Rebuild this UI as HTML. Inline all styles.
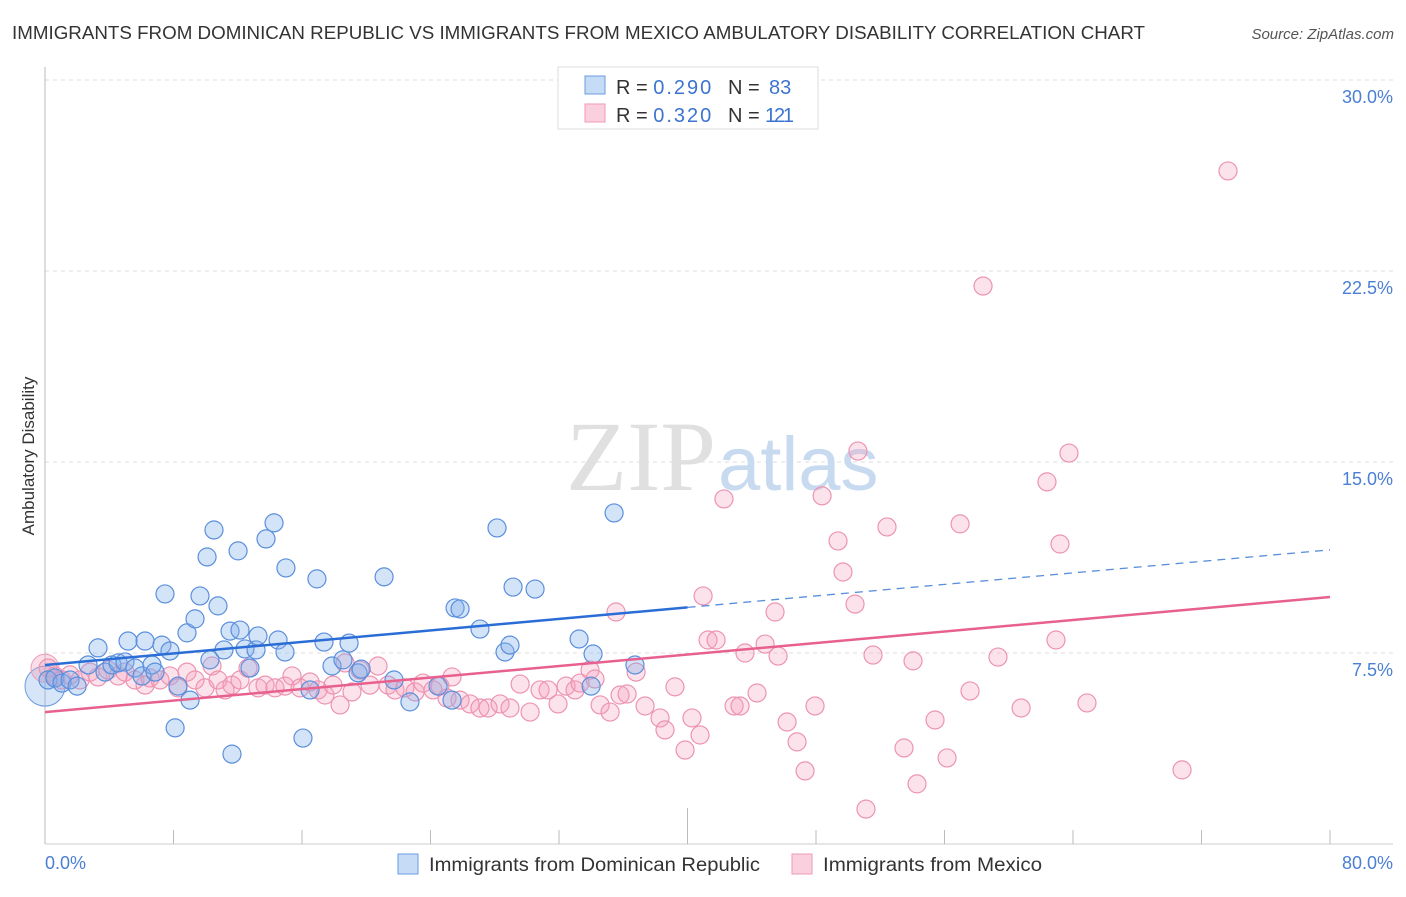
<!DOCTYPE html>
<html><head><meta charset="utf-8"><style>
body{margin:0;background:#fff;font-family:"Liberation Sans",sans-serif;}
svg text{font-family:"Liberation Sans",sans-serif;}
</style></head><body>
<svg id="chart" width="1406" height="892" viewBox="0 0 1406 892">
<text x="12" y="39" font-size="18" fill="#333" textLength="1133" lengthAdjust="spacingAndGlyphs">IMMIGRANTS FROM DOMINICAN REPUBLIC VS IMMIGRANTS FROM MEXICO AMBULATORY DISABILITY CORRELATION CHART</text>
<text x="1394" y="39" font-size="15" fill="#555" font-style="italic" text-anchor="end">Source: ZipAtlas.com</text>
<g id="grid"></g>
<text x="716" y="490" font-size="100" fill="#e0e0e0" text-anchor="end" style="font-family:'Liberation Serif',serif">ZIP</text>
<text x="718" y="490" font-size="76" fill="#c8daf0">atlas</text>
<line x1="45" y1="67" x2="45" y2="844" stroke="#bbb"/>
<line x1="45" y1="844" x2="1393" y2="844" stroke="#ccc"/>
<g id="ticks"></g>
<text transform="translate(34,456) rotate(-90)" font-size="17" fill="#333" text-anchor="middle">Ambulatory Disability</text>
<text x="45" y="869" font-size="18" fill="#4a7fd4">0.0%</text>
<text x="1393" y="869" font-size="18" fill="#4a7fd4" text-anchor="end">80.0%</text>
<g id="pts"></g>
<g id="trends"></g>
<g>
<rect x="558" y="67" width="260" height="62" fill="#fff" stroke="#ddd"/>
<rect x="585" y="76" width="20" height="18" fill="#c6dbf5" stroke="#6b9be0"/>
<rect x="585" y="104" width="20" height="18" fill="#fbd0de" stroke="#ef9ab6"/>
<text x="616" y="94" font-size="20" fill="#333">R = <tspan fill="#3c74d0" textLength="58">0.290</tspan><tspan x="728">N = </tspan><tspan x="769" fill="#3c74d0">83</tspan></text>
<text x="616" y="122" font-size="20" fill="#333">R = <tspan fill="#3c74d0" textLength="58">0.320</tspan><tspan x="728">N = </tspan><tspan x="765" fill="#3c74d0" textLength="29">121</tspan></text>
</g>
<g>
<rect x="398" y="854" width="20" height="20" fill="#c6dbf5" stroke="#6b9be0"/>
<text x="429" y="871" font-size="19" fill="#333" textLength="331" lengthAdjust="spacingAndGlyphs">Immigrants from Dominican Republic</text>
<rect x="792" y="854" width="20" height="20" fill="#fbd0de" stroke="#ef9ab6"/>
<text x="823" y="871" font-size="19" fill="#333" textLength="219" lengthAdjust="spacingAndGlyphs">Immigrants from Mexico</text>
</g>
</svg>
<script>
const yTicks=[7.5,15,22.5,30];
const yTickLabels=["7.5%","15.0%","22.5%","30.0%"];
const xTicks=[0,8,16,24,32,40,48,56,64,72,80];
const blueX=[0.19,0.62,1.06,1.56,2.0,2.68,3.3,3.74,4.17,4.55,4.98,5.17,5.6,6.04,6.23,6.66,6.85,7.28,7.47,7.78,8.1,8.28,8.84,9.03,9.34,9.65,10.09,10.27,10.52,10.77,11.14,11.52,11.64,12.02,12.14,12.45,12.76,13.14,13.26,13.76,14.26,14.51,14.94,15.0,16.06,16.5,16.93,17.37,17.87,18.55,18.93,19.49,19.68,21.11,21.73,22.72,24.47,25.53,25.84,25.34,27.08,28.14,28.64,28.95,29.14,30.51,33.25,34.0,34.12,35.43,36.73];
const blueY=[6.44,6.52,6.32,6.44,6.2,7.03,7.7,6.75,7.03,7.11,7.15,7.97,6.91,6.6,7.97,7.03,6.75,7.81,9.82,7.58,4.56,6.2,8.29,5.65,8.84,9.74,11.27,7.23,12.33,9.35,7.62,8.36,3.53,11.51,8.4,7.66,6.91,7.62,8.17,11.98,12.61,8.01,7.54,10.84,4.16,6.05,10.41,7.93,6.99,7.23,7.89,6.72,6.87,10.49,6.44,5.58,6.2,9.27,9.23,5.65,8.44,12.41,7.54,7.81,10.09,10.01,8.05,6.2,7.46,13.0,7.03];
const pinkX=[0.19,0.62,1.06,1.56,2.18,2.8,3.3,3.92,4.55,4.98,5.6,6.23,6.54,7.16,7.78,8.28,8.84,9.34,9.96,10.4,10.77,11.21,11.64,12.14,12.64,13.26,13.7,14.32,14.94,15.38,15.88,16.5,17.0,17.43,17.93,18.37,18.68,19.11,19.61,20.23,20.73,21.36,21.79,22.41,23.04,23.53,24.16,24.59,25.03,25.34,25.84,26.46,27.08,27.58,28.33,28.95,29.58,30.2,30.82,31.32,31.94,32.44,33.0,33.31,33.93,34.24,34.56,35.18,35.55,35.8,36.24,36.8,37.36,38.29,38.6,39.22,39.85,40.28,40.78,40.97,41.28,41.78,42.27,42.9,43.27,43.58,44.33,44.83,45.45,45.64,46.2,46.82,47.32,47.94,48.38,49.37,49.68,50.43,50.61,51.11,51.55,52.42,53.48,54.04,54.29,55.41,56.16,56.97,57.59,58.4,59.33,60.77,62.38,62.94,63.19,63.75,64.87,70.79,73.65];
const pinkY=[6.91,6.6,6.44,6.64,6.44,6.75,6.56,6.83,6.6,6.75,6.44,6.24,6.52,6.44,6.6,6.13,6.75,6.44,6.13,6.99,6.44,6.05,6.24,6.44,6.91,6.13,6.24,6.13,6.2,6.6,6.13,6.36,6.05,5.85,6.24,5.46,7.11,5.97,6.83,6.24,6.99,6.24,6.05,6.13,5.97,6.32,6.05,6.2,5.73,6.56,5.65,5.5,5.34,5.34,5.5,5.34,6.28,5.18,6.05,6.05,5.5,6.2,6.05,6.32,6.83,6.48,5.46,5.18,9.11,5.85,5.89,6.75,5.42,4.95,4.48,6.17,3.69,4.95,4.28,9.74,8.01,8.01,13.55,5.42,5.42,7.5,5.93,7.85,9.11,7.38,4.79,4.01,2.87,5.42,13.67,11.9,10.68,9.42,15.43,1.37,7.42,12.45,3.77,7.19,2.36,4.87,3.38,12.57,6.01,21.91,7.34,5.34,14.22,8.01,11.78,15.35,5.54,2.91,26.43];
const blueTrend=[7.03,11.55];
const pinkTrend=[5.18,9.7];
const blueSolidEnd=40;

const X=v=>45+v/80*1285, Y=v=>844-v/7.5*191;
const NS="http://www.w3.org/2000/svg";
function mk(tag,attrs,parent){const e=document.createElementNS(NS,tag);for(const k in attrs)e.setAttribute(k,attrs[k]);parent.appendChild(e);return e;}
const grid=document.getElementById('grid');
yTicks.forEach((t,i)=>{
  const l=mk('line',{x1:45,x2:1393,y1:Y(t),y2:Y(t),stroke:'#ddd','stroke-dasharray':'4,4'},grid);
  
  
  const tx=mk('text',{x:1393,y:Y(t)+23,'font-size':18,fill:'#4a7fd4','text-anchor':'end'},grid);
  tx.textContent=yTickLabels[i];
  
  
});
const ticks=document.getElementById('ticks');
xTicks.forEach(t=>{
  const l=mk('line',{x1:X(t),x2:X(t),y1:t===40?808:830,y2:844,stroke:'#bbb'},ticks);
  
  
});
const pts=document.getElementById('pts');
const big1=mk('circle',{cx:X(0),cy:Y(6.2),r:20,fill:'rgba(120,170,230,0.3)',stroke:'#6b9be0'},pts);


const big2=mk('circle',{cx:X(0),cy:Y(6.9),r:14,fill:'rgba(240,150,180,0.3)',stroke:'#ef9ab6'},pts);


pinkX.forEach((x,i)=>{
  const c=mk('circle',{cx:X(x),cy:Y(pinkY[i]),r:9,fill:'rgba(245,160,190,0.3)',stroke:'#ec94b2','stroke-width':1.2},pts);
  
  
});
blueX.forEach((x,i)=>{
  const c=mk('circle',{cx:X(x),cy:Y(blueY[i]),r:9,fill:'rgba(130,175,235,0.35)',stroke:'#5b8fdc','stroke-width':1.2},pts);
  
  
});
const tr=document.getElementById('trends');
const bAt=x=>blueTrend[0]+(blueTrend[1]-blueTrend[0])*x/80;
const pAt=x=>pinkTrend[0]+(pinkTrend[1]-pinkTrend[0])*x/80;
const b1=mk('line',{x1:X(0),y1:Y(bAt(0)),x2:X(blueSolidEnd),y2:Y(bAt(blueSolidEnd)),stroke:'#2a6dd6','stroke-width':2.5},tr);


const b2=mk('line',{x1:X(blueSolidEnd),y1:Y(bAt(blueSolidEnd)),x2:X(80),y2:Y(bAt(80)),stroke:'#5b8fdc','stroke-width':1.3,'stroke-dasharray':'8,6'},tr);


const p1=mk('line',{x1:X(0),y1:Y(pAt(0)),x2:X(80),y2:Y(pAt(80)),stroke:'#e8618e','stroke-width':2.5},tr);


</script>
</body></html>
